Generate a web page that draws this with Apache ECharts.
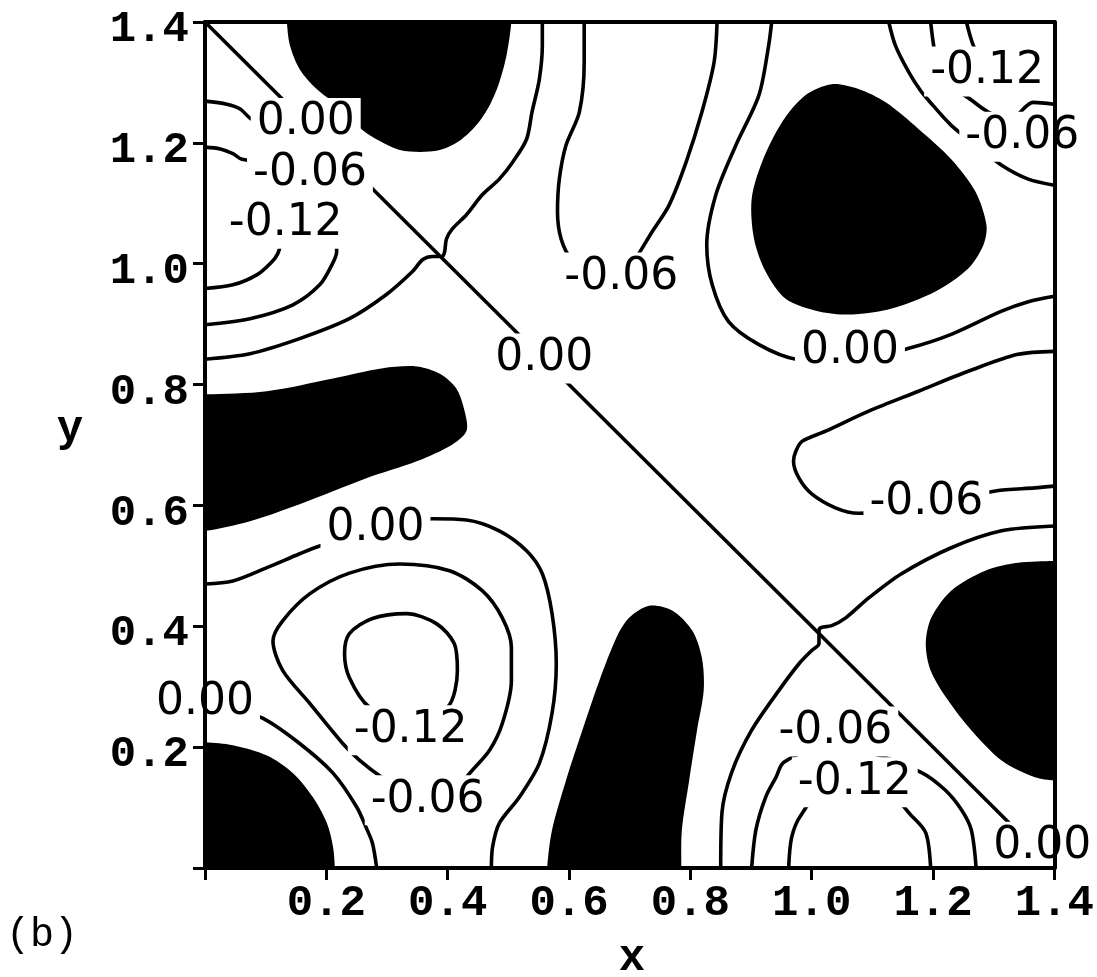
<!DOCTYPE html>
<html>
<head>
<meta charset="utf-8">
<script src="https://cdn.jsdelivr.net/npm/echarts@6/dist/echarts.min.js"></script>
<style>
html,body{margin:0;padding:0;background:#fff;}
#chart{width:1097px;height:977px;}
</style>
</head>
<body>
<div id="chart"></div>
<script>
// ---- axis ticks ----
const xTickLabels = ['', '0.2', '0.4', '0.6', '0.8', '1.0', '1.2', '1.4'];
const yTickLabels = ['', '0.2', '0.4', '0.6', '0.8', '1.0', '1.2', '1.4'];

// ---- filled (black) regions, [x, y] ----
const blobTopLeft = [[0.135,1.4],[0.140,1.361],[0.156,1.322],[0.184,1.289],[0.209,1.269],[0.260,1.221],[0.288,1.203],[0.321,1.188],[0.354,1.185],[0.387,1.188],[0.419,1.203],[0.447,1.229],[0.469,1.262],[0.485,1.300],[0.497,1.345],[0.505,1.4],[0.507,1.46],[0.133,1.46]];
const blobTopRight = [[1.033,1.297],[1.077,1.289],[1.122,1.267],[1.176,1.223],[1.230,1.173],[1.270,1.119],[1.288,1.064],[1.283,1.031],[1.258,0.992],[1.204,0.954],[1.132,0.926],[1.066,0.916],[1.012,0.921],[0.957,0.942],[0.924,0.987],[0.905,1.041],[0.901,1.107],[0.918,1.168],[0.951,1.234],[0.990,1.279]];
const blobLeftMid = [[0,0.784],[0.102,0.789],[0.211,0.810],[0.293,0.827],[0.349,0.830],[0.387,0.818],[0.414,0.794],[0.428,0.756],[0.431,0.723],[0.408,0.701],[0.349,0.673],[0.266,0.645],[0.156,0.602],[0.074,0.574],[0,0.558],[-0.06,0.556],[-0.06,0.786]];
const blobBottomLeft = [[0,0.208],[0.046,0.203],[0.102,0.186],[0.145,0.157],[0.178,0.117],[0.201,0.074],[0.211,0.035],[0.214,0],[0.215,-0.06],[-0.06,-0.06],[-0.06,0.209]];
const blobBottomMid = [[0.564,0],[0.572,0.063],[0.595,0.145],[0.622,0.228],[0.650,0.310],[0.678,0.381],[0.699,0.414],[0.732,0.434],[0.770,0.426],[0.803,0.393],[0.819,0.348],[0.822,0.294],[0.811,0.228],[0.798,0.145],[0.786,0.063],[0.785,0],[0.785,-0.06],[0.563,-0.06]];
const blobBottomRight = [[1.4,0.508],[1.340,0.505],[1.286,0.492],[1.230,0.459],[1.197,0.414],[1.188,0.371],[1.196,0.327],[1.225,0.277],[1.263,0.228],[1.313,0.178],[1.368,0.150],[1.4,0.145],[1.46,0.144],[1.46,0.509]];
const blobs = [blobTopLeft, blobTopRight, blobLeftMid, blobBottomLeft, blobBottomMid, blobBottomRight];

// ---- contour lines, [x, y] ----
const diagonal = [[0,1.4],[1.4,0]];
const zeroTopLeftStub = [[0,1.269],[0.036,1.264],[0.058,1.256],[0.074,1.241],[0.099,1.226]];
const m06LeftUpper = [[0,1.193],[0.025,1.190],[0.046,1.182],[0.061,1.173],[0.15,1.16]];
const m06LeftLower = [[0.215,1.07],[0.217,1.020],[0.209,0.998],[0.189,0.965],[0.145,0.932],[0.074,0.909],[0,0.899]];
const m12Left = [[0,0.959],[0.046,0.965],[0.086,0.982],[0.110,1.003],[0.120,1.017],[0.13,1.05]];
const zeroSaddleTop = [[0.556,1.4],[0.556,1.361],[0.551,1.305],[0.539,1.251],[0.530,1.206],[0.507,1.168],[0.485,1.140],[0.457,1.114],[0.431,1.081],[0.408,1.058],[0.398,1.041],[0.395,1.020],[0.391,1.012],[0.375,1.012],[0.359,1.007],[0.342,0.987],[0.299,0.949],[0.238,0.909],[0.156,0.876],[0.074,0.851],[0,0.842]];
const m06TopU = [[0.625,1.4],[0.625,1.333],[0.617,1.251],[0.595,1.196],[0.584,1.140],[0.581,1.086],[0.587,1.041],[0.604,1.008],[0.650,0.974],[0.683,0.970],[0.712,1.012],[0.737,1.053],[0.765,1.097],[0.793,1.168],[0.819,1.251],[0.839,1.333],[0.844,1.4]];
const zeroTopRight = [[0.934,1.4],[0.929,1.361],[0.913,1.279],[0.875,1.196],[0.842,1.114],[0.827,1.031],[0.836,0.965],[0.863,0.904],[0.913,0.866],[0.974,0.842],[1.061,0.838],[1.160,0.860],[1.230,0.883],[1.312,0.921],[1.357,0.937],[1.4,0.946]];
const cornerOuter = [[1.127,1.4],[1.138,1.361],[1.160,1.317],[1.179,1.287],[1.192,1.271],[1.230,1.229],[1.275,1.193],[1.313,1.163],[1.357,1.140],[1.4,1.130]];
const cornerMiddle = [[1.196,1.4],[1.201,1.361],[1.204,1.350],[1.225,1.300],[1.263,1.271],[1.291,1.251],[1.327,1.239],[1.365,1.267],[1.4,1.264]];
const cornerInner = [[1.255,1.4],[1.263,1.371],[1.270,1.355],[1.308,1.325],[1.36,1.32]];
const m06Tongue = [[1.4,0.855],[1.340,0.850],[1.258,0.822],[1.176,0.789],[1.094,0.756],[1.023,0.723],[0.984,0.706],[0.974,0.690],[0.970,0.673],[0.979,0.645],[1.000,0.619],[1.039,0.596],[1.077,0.587],[1.192,0.599],[1.303,0.624],[1.368,0.629],[1.4,0.632]];
const zeroSaddleBottom = [[1.4,0.566],[1.313,0.558],[1.230,0.530],[1.148,0.487],[1.094,0.447],[1.056,0.414],[1.033,0.401],[1.016,0.398],[1.012,0.393],[1.012,0.371],[1.0,0.360],[0.979,0.338],[0.946,0.294],[0.901,0.228],[0.868,0.158],[0.852,0.091],[0.850,0]];
const m06BottomRight = [[0.901,0],[0.908,0.063],[0.924,0.117],[0.941,0.150],[0.954,0.175],[1.012,0.198],[1.094,0.191],[1.181,0.158],[1.220,0.129],[1.247,0.096],[1.263,0.063],[1.271,0]];
const m12BottomRight = [[0.962,0],[0.967,0.051],[0.982,0.087],[1.028,0.137],[1.110,0.137],[1.164,0.087],[1.188,0.058],[1.196,0]];
const zeroLeftMid = [[0,0.470],[0.046,0.475],[0.102,0.497],[0.156,0.520],[0.189,0.533],[0.280,0.558],[0.375,0.578],[0.431,0.576],[0.485,0.558],[0.530,0.525],[0.556,0.487],[0.572,0.421],[0.579,0.338],[0.572,0.256],[0.551,0.173],[0.518,0.117],[0.485,0.074],[0.474,0.035],[0.472,0]];
const m06LoopLeft = [[0.380,0.118],[0.420,0.128],[0.431,0.150],[0.469,0.195],[0.490,0.239],[0.505,0.310],[0.505,0.365],[0.490,0.414],[0.457,0.459],[0.403,0.492],[0.321,0.503],[0.238,0.488],[0.173,0.454],[0.128,0.409],[0.112,0.376],[0.128,0.327],[0.173,0.272],[0.227,0.206],[0.255,0.178],[0.293,0.149],[0.340,0.122],[0.380,0.118]];
const m12LoopLeft = [[0.337,0.236],[0.271,0.266],[0.238,0.315],[0.230,0.355],[0.238,0.388],[0.276,0.413],[0.332,0.421],[0.382,0.404],[0.411,0.371],[0.416,0.327],[0.400,0.266],[0.337,0.236]];
const zeroBottomLeft = [[0.058,0.257],[0.095,0.248],[0.156,0.206],[0.211,0.157],[0.250,0.101],[0.266,0.066],[0.276,0.041],[0.283,0]];
const contours = [zeroTopLeftStub, m06LeftUpper, m06LeftLower, m12Left, zeroSaddleTop, m06TopU, zeroTopRight, cornerOuter, cornerMiddle, cornerInner, m06Tongue, zeroSaddleBottom, m06BottomRight, m12BottomRight, zeroLeftMid, m06LoopLeft, m12LoopLeft, zeroBottomLeft];

// ---- contour labels ----
const labelTexts = ['0.00','-0.06','-0.12','-0.06','0.00','0.00','-0.12','-0.06','-0.06','0.00','0.00','-0.12','-0.06','-0.06','-0.12','0.00'];
const labelX = [0.166,0.173,0.133,0.686,0.559,1.063,1.289,1.347,1.189,0.281,0.0,0.339,0.367,1.039,1.071,1.380];
const labelY = [1.233,1.150,1.066,0.977,0.843,0.855,1.318,1.210,0.604,0.561,0.274,0.228,0.112,0.226,0.142,0.035];

const chart = echarts.init(document.getElementById('chart'), null, {renderer: 'canvas'});

const MONO = '"Liberation Mono", "DejaVu Sans Mono", monospace';
const LW = 3.6;
const axisCommon = {
  type: 'value', min: 0, max: 1.4, interval: 0.2, z: 20,
  splitLine: {show: false},
  axisLine: {show: true, onZero: false, lineStyle: {color: '#000', width: 4}}
};

const series = [];
series.push({
  type: 'custom', name: 'filled', z: 1, silent: true,
  data: blobs.map(b => b[0]),
  renderItem: function (params, api) {
    const pts = blobs[params.dataIndex].map(p => api.coord(p));
    const cs = params.coordSys;
    return {
      type: 'polygon',
      shape: {points: pts, smooth: 0.3},
      style: {fill: '#000', stroke: null},
      clipPath: {type: 'rect', shape: {x: cs.x, y: cs.y, width: cs.width, height: cs.height}}
    };
  }
});
contours.forEach(function (c, i) {
  series.push({
    type: 'line', name: 'c' + i, data: c, z: 2, silent: true,
    smooth: 0.3, symbol: 'none', clip: true,
    lineStyle: {color: '#000', width: LW, cap: 'round', join: 'round'}
  });
});
series.push({
  type: 'line', name: 'diag', data: diagonal, z: 2, silent: true,
  symbol: 'none', lineStyle: {color: '#000', width: LW}
});
series.push({
  type: 'custom', name: 'labels', z: 5, silent: true,
  data: labelTexts.map((t, i) => [labelX[i], labelY[i]]),
  renderItem: function (params, api) {
    const p = api.coord([api.value(0), api.value(1)]);
    return {
      type: 'text', x: p[0], y: p[1],
      style: {
        text: labelTexts[params.dataIndex],
        fontFamily: '"DejaVu Sans", sans-serif', fontSize: 44,
        fill: '#000', align: 'center', verticalAlign: 'middle',
        backgroundColor: '#fff', padding: [3, 6], lineHeight: 44
      }
    };
  }
});

chart.setOption({
  animation: false,
  backgroundColor: '#fff',
  grid: {left: 205, top: 22, width: 850, height: 846, containLabel: false},
  xAxis: [
    Object.assign({}, axisCommon, {
      position: 'bottom',
      axisTick: {show: true, inside: false, length: 12, lineStyle: {color: '#000', width: 3}},
      axisLabel: {show: true, margin: 14, color: '#000', fontFamily: MONO, fontSize: 44, fontWeight: 'bold',
        formatter: v => xTickLabels[Math.round(v / 0.2)]}
    }),
    Object.assign({}, axisCommon, {position: 'top', axisTick: {show: false}, axisLabel: {show: false}})
  ],
  yAxis: [
    Object.assign({}, axisCommon, {
      position: 'left',
      axisTick: {show: true, inside: false, length: 12, lineStyle: {color: '#000', width: 3}},
      axisLabel: {show: true, margin: 16, color: '#000', fontFamily: MONO, fontSize: 44, fontWeight: 'bold',
        verticalAlign: 'top', lineHeight: 16,
        formatter: v => yTickLabels[Math.round(v / 0.2)]}
    }),
    Object.assign({}, axisCommon, {position: 'right', axisTick: {show: false}, axisLabel: {show: false}})
  ],
  graphic: [
    {type: 'text', x: 70, y: 430, z: 30, style: {text: 'y', fontFamily: MONO, fontSize: 44, fontWeight: 'bold', fill: '#000', align: 'center', verticalAlign: 'middle'}},
    {type: 'text', x: 632, y: 959, z: 30, style: {text: 'x', fontFamily: MONO, fontSize: 44, fontWeight: 'bold', fill: '#000', align: 'center', verticalAlign: 'middle'}},
    {type: 'text', x: 42, y: 935, z: 30, style: {text: '(b)', fontFamily: MONO, fontSize: 40, fill: '#000', align: 'center', verticalAlign: 'middle'}}
  ],
  series: series
});
</script>
</body>
</html>
